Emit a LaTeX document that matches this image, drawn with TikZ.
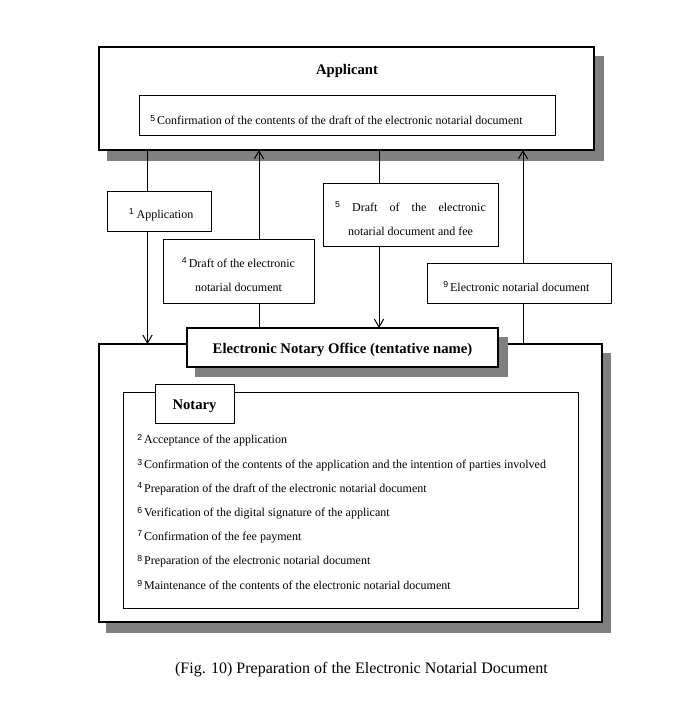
\documentclass[tikz,border=0pt]{standalone}
\usepackage{fontspec}
\setmainfont{Liberation Serif}
\setsansfont{Liberation Sans}
\usetikzlibrary{arrows.meta}
\newcommand\stepnum[1]{\raisebox{2.6pt}{\fontsize{6.5}{7}\selectfont\sffamily #1}}
\begin{document}
\begin{tikzpicture}[x=0.75pt,y=-0.75pt,
  box/.style={draw, fill=white, line width=0.75pt, inner sep=0pt, outer sep=0pt},
  bigbox/.style={box, line width=1.8pt},
  shadowfill/.style={fill=black!50},
  conn/.style={line width=0.75pt},
  arr/.style={conn, -{Straight Barb[length=6pt,width=7pt]}},
  txt/.style={inner sep=0pt, font=\fontsize{9}{18}\selectfont},
  boxlabel/.style={txt, align=center, yshift=-2.2pt},
  head/.style={inner sep=0pt, font=\fontsize{11}{13}\selectfont\bfseries},
  headlabel/.style={head, yshift=-2.4pt},
]
\useasboundingbox (0,0) rectangle (690,712);

% Applicant
\fill[shadowfill] (107,56) rectangle (604,161);
\node[bigbox, minimum width=371.25pt, minimum height=77.25pt] (app) at (346.5,98.5) {};
\node[head] (apptitle) at (347,71) {Applicant};
\node[box, minimum width=312pt, minimum height=30pt] (appin) at (347,116) {};
\node[txt, anchor=west] (appintext) at (150,120) {\stepnum{5}\,Confirmation of the contents of the draft of the electronic notarial document};

% Electronic Notary Office
\fill[shadowfill] (106,353) rectangle (611,633);
\node[bigbox, minimum width=377.25pt, minimum height=208.5pt] (office) at (350.5,483) {};
\node[box, minimum width=341.25pt, minimum height=162pt] (notarybox) at (350.5,500) {};
\node[box, minimum width=59.25pt, minimum height=29.25pt] (notary) at (194.5,403.5) {};
\node[headlabel] (notarytext) at (notary.center) {Notary};
\fill[shadowfill] (195,337) rectangle (508,377);
\node[bigbox, minimum width=233.25pt, minimum height=29.25pt] (eno) at (342.5,347.5) {};
\node[headlabel, yshift=0.6pt] (enotext) at (eno.center) {Electronic Notary Office (tentative name)};

\node[txt, anchor=west] (n2) at (137,440) {\stepnum{2}\,Acceptance of the application};
\node[txt, anchor=west] (n3) at (137,465) {\stepnum{3}\,Confirmation of the contents of the application and the intention of parties involved};
\node[txt, anchor=west] (n4) at (137,489) {\stepnum{4}\,Preparation of the draft of the electronic notarial document};
\node[txt, anchor=west] (n6) at (137,513) {\stepnum{6}\,Verification of the digital signature of the applicant};
\node[txt, anchor=west] (n7) at (137,537) {\stepnum{7}\,Confirmation of the fee payment};
\node[txt, anchor=west] (n8) at (137,561) {\stepnum{8}\,Preparation of the electronic notarial document};
\node[txt, anchor=west] (n9) at (137,585) {\stepnum{9}\,Maintenance of the contents of the electronic notarial document};

% connector columns
\coordinate (l1) at (147.5,0);
\coordinate (l4) at (259,0);
\coordinate (l5) at (379,0);
\coordinate (l9) at (523,0);

\draw[arr] (app.south -| l1) -- (office.north -| l1);

% message boxes
\node[box, minimum width=78pt, minimum height=30pt] (b1) at (159,212) {};
\node[boxlabel, xshift=1.5pt] (b1text) at (b1.center) {\stepnum{1} Application};
\node[box, minimum width=113.25pt, minimum height=47.25pt] (b4) at (238.5,271.5) {};
\node[boxlabel] (b4text) at (b4.center) {\stepnum{4}\,Draft of the electronic\\notarial document};
\node[box, minimum width=131.25pt, minimum height=47.25pt] (b5) at (410.5,215.5) {};
\node[boxlabel] (b5text) at (b5.center) {\makebox[113pt][s]{\stepnum{5} Draft of the electronic}\\notarial document and fee};
\node[box, minimum width=138pt, minimum height=29.25pt] (b9) at (519,283.5) {};
\node[boxlabel, xshift=-2pt] (b9text) at (b9.center) {\stepnum{9}\,Electronic notarial document};

\draw[arr] (b4.north -| l4) -- (app.south -| l4);
\draw[conn] (eno.north -| l4) -- (b4.south -| l4);
\draw[conn] (app.south -| l5) -- (b5.north -| l5);
\draw[arr] (b5.south -| l5) -- (eno.north -| l5);
\draw[arr] (b9.north -| l9) -- (app.south -| l9);
\draw[conn] (office.north -| l9) -- (b9.south -| l9);

% caption
\node[inner sep=0pt, font=\fontsize{12}{14}\selectfont] (caption) at (361.5,670) {(Fig. 10) Preparation of the Electronic Notarial Document};
\end{tikzpicture}
\end{document}
